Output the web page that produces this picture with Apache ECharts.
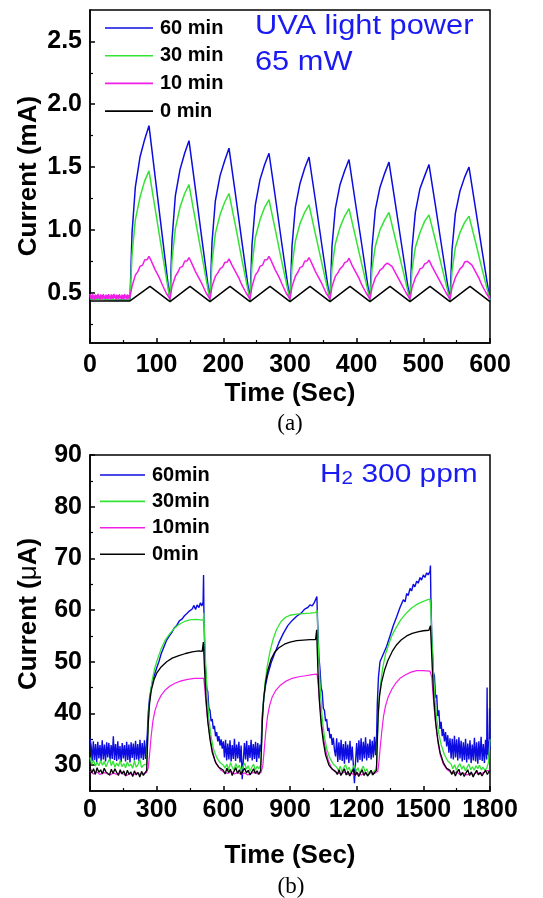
<!DOCTYPE html>
<html>
<head>
<meta charset="utf-8">
<script src="https://cdn.jsdelivr.net/npm/echarts@6/dist/echarts.min.js"></script>
<style>
html,body{margin:0;padding:0;background:#fff;}
#chart{width:543px;height:898px;}
</style>
</head>
<body>
<div id="chart"></div>
<script>
// ---------- Panel (a): UVA light power 65 mW ----------
const aNames = ['60 min', '30 min', '10 min', '0 min'];
const aYTicks = [0.5, 1.0, 1.5, 2.0, 2.5];
const aYMinor = [0.25, 0.75, 1.25, 1.75, 2.25];
const aXTicks = [0, 100, 200, 300, 400, 500, 600];

const a60 = [[0,0.45],[60,0.44],[63,0.97],[68,1.34],[75,1.58],[82,1.72],[88.5,1.83],[98,1.41],[108,0.97],
[120,0.44],[123,0.92],[128,1.27],[135,1.48],[142,1.61],[148.5,1.71],[158,1.33],[168,0.92],
[180,0.44],[183,0.90],[188,1.23],[195,1.43],[202,1.55],[208.5,1.65],[218,1.29],[228,0.90],
[240,0.44],[243,0.88],[248,1.20],[255,1.40],[262,1.52],[268.5,1.61],[278,1.26],[288,0.88],
[300,0.44],[303,0.87],[308,1.18],[315,1.37],[322,1.49],[328.5,1.58],[338,1.24],[348,0.87],
[360,0.44],[363,0.87],[368,1.17],[375,1.36],[382,1.47],[388.5,1.56],[398,1.22],[408,0.87],
[420,0.44],[423,0.86],[428,1.16],[435,1.34],[442,1.45],[448.5,1.54],[458,1.21],[468,0.86],
[480,0.44],[483,0.85],[488,1.14],[495,1.33],[502,1.43],[508.5,1.52],[518,1.20],[528,0.85],
[540,0.44],[543,0.84],[548,1.13],[555,1.31],[562,1.42],[568.5,1.50],[578,1.18],[588,0.84],[600,0.44]];

const a30 = [[0,0.45],[60,0.44],[63,0.80],[68,1.08],[75,1.26],[82,1.39],[88.5,1.47],[98,1.16],[108,0.83],
[120,0.44],[123,0.76],[128,1.01],[135,1.18],[142,1.29],[148.5,1.36],[158,1.08],[168,0.79],
[180,0.44],[183,0.74],[188,0.97],[195,1.12],[202,1.22],[208.5,1.29],[218,1.04],[228,0.76],
[240,0.44],[243,0.72],[248,0.94],[255,1.08],[262,1.18],[268.5,1.24],[278,1.00],[288,0.74],
[300,0.44],[303,0.71],[308,0.91],[315,1.05],[322,1.14],[328.5,1.20],[338,0.97],[348,0.73],
[360,0.44],[363,0.70],[368,0.89],[375,1.02],[382,1.11],[388.5,1.17],[398,0.95],[408,0.72],
[420,0.44],[423,0.69],[428,0.87],[435,1.00],[442,1.08],[448.5,1.14],[458,0.93],[468,0.71],
[480,0.44],[483,0.68],[488,0.86],[495,0.98],[502,1.07],[508.5,1.12],[518,0.92],[528,0.70],
[540,0.44],[543,0.67],[548,0.86],[555,0.98],[562,1.06],[568.5,1.11],[578,0.91],[588,0.69],[600,0.44]];

const a10 = [[0,0.49],[1,0.452],[2,0.483],[3,0.447],[4,0.488],[5,0.458],[6,0.479],[7,0.446],[8,0.486],[9,0.455],
[10,0.481],[11,0.449],[12,0.492],[13,0.46],[14,0.477],[15,0.445],[16,0.487],[17,0.453],[18,0.482],[19,0.448],
[20,0.49],[21,0.457],[22,0.478],[23,0.446],[24,0.485],[25,0.452],[26,0.48],[27,0.449],[28,0.489],[29,0.456],
[30,0.476],[31,0.447],[32,0.487],[33,0.454],[34,0.483],[35,0.45],[36,0.491],[37,0.458],[38,0.479],[39,0.445],
[40,0.486],[41,0.453],[42,0.481],[43,0.448],[44,0.488],[45,0.455],[46,0.477],[47,0.446],[48,0.485],[49,0.451],
[50,0.482],[51,0.449],[52,0.49],[53,0.457],[54,0.478],[55,0.447],[56,0.486],[57,0.454],[58,0.48],[59,0.45],[60,0.47],
[63,0.55],[68,0.64],[72,0.67],[75,0.71],[79,0.72],[82,0.76],[86,0.765],[88.5,0.79],[93,0.74],[98,0.68],[103,0.63],[108,0.57],[114,0.5],
[120,0.45],[123,0.55],[128,0.63],[132,0.665],[135,0.70],[139,0.71],[142,0.75],[146,0.755],[148.5,0.78],[153,0.73],[158,0.67],[163,0.62],[168,0.57],[174,0.5],
[180,0.45],[183,0.55],[188,0.63],[192,0.66],[195,0.69],[199,0.705],[202,0.74],[206,0.745],[208.5,0.77],[213,0.72],[218,0.67],[223,0.62],[228,0.56],[234,0.5],
[240,0.45],[243,0.55],[248,0.64],[252,0.67],[255,0.71],[259,0.72],[262,0.76],[266,0.765],[268.5,0.79],[273,0.74],[278,0.68],[283,0.63],[288,0.57],[294,0.5],
[300,0.45],[303,0.55],[308,0.63],[312,0.665],[315,0.70],[319,0.71],[322,0.75],[326,0.755],[328.5,0.78],[333,0.73],[338,0.67],[343,0.62],[348,0.57],[354,0.5],
[360,0.45],[363,0.55],[368,0.63],[372,0.66],[375,0.69],[379,0.71],[382,0.74],[386,0.75],[388.5,0.775],[393,0.72],[398,0.67],[403,0.62],[408,0.56],[414,0.5],
[420,0.45],[423,0.54],[428,0.62],[432,0.65],[435,0.68],[439,0.695],[442,0.72],[446,0.735],[448.5,0.75],[453,0.71],[458,0.66],[463,0.61],[468,0.56],[474,0.5],
[480,0.45],[483,0.54],[488,0.62],[492,0.655],[495,0.69],[499,0.70],[502,0.73],[506,0.74],[508.5,0.76],[513,0.71],[518,0.66],[523,0.61],[528,0.56],[534,0.5],
[540,0.45],[543,0.54],[548,0.62],[552,0.66],[555,0.69],[559,0.71],[562,0.745],[566,0.75],[568.5,0.76],[573,0.72],[578,0.67],[583,0.62],[588,0.56],[594,0.5],[600,0.45]];

const a0 = [[0,0.435],[60,0.435],[90,0.55],[120,0.43],[150,0.55],[180,0.43],[210,0.55],[240,0.43],[270,0.55],[300,0.43],
[330,0.55],[360,0.43],[390,0.55],[420,0.43],[450,0.55],[480,0.43],[510,0.55],[540,0.43],[570,0.55],[600,0.43]];

// ---------- Panel (b): H2 300 ppm ----------
const bNames = ['60min', '30min', '10min', '0min'];
const bYTicks = [30, 40, 50, 60, 70, 80, 90];
const bYMinor = [35, 45, 55, 65, 75, 85];
const bXTicks = [0, 300, 600, 900, 1200, 1500, 1800];

const b60 = [[0,35.2],[5,33.8],[10,30.8],[15,34.6],[20,31.0],[25,34.1],[30,30.6],[35,34.5],[40,31.3],[45,33.9],[50,30.8],[55,34.8],[60,31.1],[65,34.0],[70,30.7],[75,34.4],[80,31.5],[85,34.3],[90,30.9],[95,33.9],[100,31.2],[105,35.6],[110,31.0],[115,34.1],[120,30.8],[125,34.6],[130,31.1],[135,33.7],[140,30.6],[145,34.3],[150,31.3],[155,33.9],[160,30.7],[165,34.5],[170,31.0],[175,34.0],[180,30.5],[185,34.4],[190,31.4],[195,34.2],[200,30.9],[205,34.7],[210,31.1],[215,34.1],[220,30.8],[225,34.9],[230,31.3],[235,34.3],[240,31.0],[245,34.8],[250,31.2],[255,34.4],
[258,36],[262,40],[268,43],[278,45.5],[290,47.5],[300,48.8],[310,50.0],[320,51.5],[332,52.8],[345,54.2],[357,55.0],[370,55.8],[380,56.6],[390,57.0],[402,57.9],[415,58.3],[425,58.9],[435,59.3],[447,59.8],[460,60.2],[468,60.9],[475,60.1],[482,61.0],[490,60.5],[497,61.4],[503,60.8],[509,61.5],[511,66.8],[513,58],[518,50],[525,45],[530,44.2],[535,41],[540,40.6],[545,38.5],[550,38.9],[555,37],[560,37.6],[565,35.6],[570,36.4],[575,34.6],[580,35.6],[585,33.8],[590,35.0],[595,33.2],[600,34.6],
[605,31.5],[610,34.9],[615,30.9],[620,34.2],[625,31.1],[630,34.8],[635,30.7],[640,33.9],[645,31.2],[650,35.1],[655,30.8],[660,34.0],[665,31.3],[670,34.5],[675,30.5],[680,33.8],[685,27.3],[690,31.0],[695,34.3],[700,31.1],[705,34.7],[710,30.7],[715,33.9],[720,31.4],[725,34.9],[730,30.9],[735,34.1],[740,31.2],[745,34.5],[750,30.6],[755,34.3],[760,31.3],[765,34.0],[770,32.5],
[772,36],[776,40],[782,43],[790,45.5],[800,47.5],[815,49.8],[830,51.5],[850,53.7],[870,55.5],[890,57.0],[910,58.0],[930,58.8],[950,59.4],[960,59.9],[970,60.3],[980,60.5],[990,61.0],[1000,60.8],[1010,61.5],[1018,61.3],[1021,62.6],[1024,58],[1030,51],[1035,48.5],[1040,45],[1045,44.2],[1050,41],[1055,40.6],[1060,38.5],[1065,38.9],[1070,36.6],[1075,37.2],[1080,35.2],[1085,36.0],[1090,33.9],[1095,35.3],[1100,33.0],
[1105,31.7],[1110,35.2],[1115,30.6],[1120,34.4],[1125,31.0],[1130,34.9],[1135,30.8],[1140,34.1],[1145,30.3],[1150,34.6],[1155,31.1],[1160,34.0],[1165,30.4],[1170,34.7],[1175,30.9],[1180,33.6],[1185,30.1],[1190,26.5],[1195,30.7],[1200,34.3],[1205,30.5],[1210,34.8],[1215,31.0],[1220,35.2],[1225,30.7],[1230,34.5],[1235,31.3],[1240,35.4],[1245,30.9],[1250,34.2],[1255,31.4],[1260,35.0],[1265,31.1],[1270,34.7],[1275,31.5],[1280,35.5],[1285,31.9],
[1290,36],[1293,42],[1298,47],[1305,50],[1320,51.5],[1335,53],[1350,55],[1365,57],[1380,58.7],[1395,60.5],[1410,62],[1418,61.6],[1425,63.2],[1432,62.8],[1440,64.2],[1447,63.7],[1455,65],[1462,64.5],[1470,65.6],[1477,65.2],[1485,66.3],[1492,65.8],[1500,66.8],[1507,66.3],[1515,67.2],[1522,66.8],[1530,67.5],[1532,68.6],[1534,62],[1538,55],[1545,48],[1550,47.2],[1555,43],[1560,43.6],[1565,39.5],[1570,40.6],[1575,37],[1580,38.4],[1585,35.6],[1590,37.0],[1595,34.6],[1600,36.4],[1605,33.6],[1610,35.8],[1615,32.4],[1620,35.2],
[1625,31.3],[1630,35.1],[1635,31.1],[1640,35.7],[1645,31.5],[1650,35.0],[1655,30.9],[1660,35.4],[1665,31.3],[1670,34.7],[1675,30.7],[1680,34.4],[1685,31.0],[1690,35.1],[1695,30.5],[1700,34.2],[1705,31.1],[1710,34.8],[1715,30.4],[1720,34.0],[1725,30.9],[1730,35.3],[1735,30.7],[1740,34.4],[1745,30.3],[1750,34.6],[1755,31.0],[1760,35.5],[1765,30.8],[1770,34.1],[1775,30.4],[1780,34.9],[1785,31.1],[1787,45],[1789,32],[1792,34.6],[1795,31.5],[1798,41],[1800,33]];

const b30 = [[0,31.5],[8,30.2],[16,31.0],[24,29.8],[32,30.6],[40,29.9],[48,30.9],[56,30.0],[64,30.7],[72,29.7],[80,30.5],[88,31.2],[96,29.9],[104,30.8],[112,29.6],[120,30.4],[128,29.8],[136,30.9],[144,29.7],[152,30.3],[160,29.5],[168,30.6],[176,29.8],[184,30.2],[192,29.4],[200,30.8],[208,29.6],[216,30.1],[224,31.2],[232,29.5],[240,30.0],[248,29.7],[255,30.2],
[260,36],[265,40.5],[272,44],[280,46.5],[290,48.5],[300,50],[320,52.5],[340,54.3],[360,55.5],[380,56.5],[400,57.2],[425,57.8],[450,58.1],[475,58.2],[500,58.1],[510,58.0],[512,59.5],[515,56],[520,50],[527,44],[535,39],[545,35.5],[555,33.2],[570,31.5],[585,30.5],[600,30.0],
[608,29.4],[616,30.2],[624,29.1],[632,30.5],[640,29.6],[648,29.0],[656,30.3],[664,29.4],[672,30.0],[680,28.9],[688,29.7],[696,30.4],[704,29.2],[712,29.9],[720,28.8],[728,29.6],[736,30.2],[744,29.0],[752,29.8],[760,29.3],[768,30.0],
[770,31],[774,37],[780,42],[788,46],[797,49],[810,52],[825,54.5],[840,56.3],[860,57.8],[880,58.6],[900,59.0],[930,59.2],[960,59.3],[990,59.4],[1015,59.5],[1022,60.0],[1025,56],[1030,50],[1037,44],[1045,39],[1055,35.5],[1065,33.2],[1080,31.3],[1095,30.2],[1110,29.6],
[1118,29.0],[1126,29.8],[1134,28.7],[1142,29.5],[1150,30.1],[1158,29.0],[1166,29.6],[1174,28.6],[1182,29.4],[1190,30.0],[1198,28.9],[1206,29.5],[1214,28.4],[1222,29.2],[1230,29.8],[1238,28.7],[1246,29.3],[1254,28.2],[1262,28.9],[1270,28.1],[1278,28.8],[1286,29.2],
[1290,30],[1294,36],[1300,42],[1308,46],[1318,49],[1330,51.5],[1345,53.5],[1360,55.2],[1380,56.8],[1400,58.2],[1425,59.5],[1450,60.5],[1475,61.2],[1500,61.7],[1520,62.0],[1530,62.1],[1534,60],[1538,55],[1544,49],[1552,43],[1560,39],[1570,36],[1580,34],[1595,32],[1610,30.8],[1625,30.2],
[1633,29.3],[1641,30.1],[1649,29.0],[1657,29.8],[1665,30.3],[1673,29.2],[1681,29.9],[1689,28.9],[1697,29.6],[1705,30.2],[1713,29.1],[1721,29.7],[1729,29.0],[1737,29.9],[1745,29.3],[1753,30.0],[1761,29.1],[1769,29.6],[1777,29.0],[1785,29.4],[1793,30.5],[1797,33],[1800,35]];

const b10 = [[0,28.9],[15,28.3],[30,28.7],[45,28.2],[60,28.6],[75,28.4],[90,28.1],[105,28.5],[120,28.2],[135,28.6],[150,28.3],[165,28.0],[180,28.4],[195,28.1],[210,28.5],[225,28.2],[240,28.4],[255,28.6],
[262,29.5],[268,32],[275,35.5],[283,38.5],[292,40.5],[305,42.2],[320,43.5],[340,44.6],[360,45.3],[385,45.9],[410,46.3],[440,46.6],[470,46.8],[500,46.8],[512,46.8],[516,45],[522,42],[530,38.5],[540,35.5],[550,33],[562,31],[575,29.8],[590,29.0],[605,28.6],
[620,28.4],[635,28.8],[650,28.3],[665,28.6],[680,28.2],[695,28.5],[710,28.1],[725,28.4],[740,28.7],[755,28.3],[770,28.6],
[778,30],[784,33],[791,36.5],[799,39.5],[808,41.5],[820,43.2],[835,44.4],[855,45.4],[880,46.2],[910,46.8],[940,47.1],[970,47.3],[1000,47.5],[1022,47.6],[1026,46],[1032,43],[1040,39],[1050,35.5],[1060,33],[1072,31],[1085,29.6],[1100,28.8],[1115,28.5],
[1130,28.3],[1145,28.7],[1160,28.2],[1175,28.5],[1190,28.0],[1205,28.4],[1220,28.1],[1235,28.5],[1250,28.2],[1265,28.6],[1280,28.4],[1295,28.8],
[1300,30.5],[1306,33.5],[1313,36.5],[1321,39.5],[1330,41.5],[1342,43.2],[1357,44.6],[1375,45.8],[1395,46.8],[1420,47.5],[1445,48.0],[1470,48.3],[1500,48.3],[1530,48.2],[1538,47],[1543,44],[1550,40.5],[1558,37],[1567,34],[1577,31.8],[1590,30.2],[1605,29.2],[1620,28.7],
[1635,28.4],[1650,28.7],[1665,28.2],[1680,28.5],[1695,28.1],[1710,28.4],[1725,28.2],[1740,28.6],[1755,28.3],[1770,28.5],[1785,28.9],[1800,29.0]];

const b0 = [[0,29.6],[8,28.5],[16,29.3],[24,28.2],[32,29.5],[40,28.6],[48,29.1],[56,28.3],[64,29.4],[72,28.7],[80,29.0],[88,28.1],[96,29.2],[104,28.4],[112,29.3],[120,28.6],[128,28.0],[136,29.1],[144,28.3],[152,28.9],[160,27.9],[168,29.0],[176,28.2],[184,28.7],[192,27.8],[200,28.9],[208,28.1],[216,28.6],[224,27.7],[232,28.8],[240,28.0],[248,28.5],[255,29.0],
[258,33],[262,38],[268,42],[276,44.5],[288,46.5],[300,47.8],[320,49],[345,50],[370,50.7],[400,51.2],[430,51.6],[460,51.9],[490,52.1],[505,52.0],[509,52.0],[510,53.8],[512,52],[516,48],[522,43],[530,38.5],[540,35],[550,32.5],[565,30.5],[580,29.6],[600,29.0],
[608,28.3],[616,29.4],[624,28.6],[632,29.2],[640,28.0],[648,28.8],[656,29.5],[664,28.4],[672,29.1],[680,28.2],[688,28.9],[696,29.4],[704,28.5],[712,29.0],[720,28.1],[728,28.7],[736,29.3],[744,28.4],[752,28.9],[760,28.2],[768,29.0],
[772,34],[776,39],[782,43],[790,46],[800,48.3],[815,50.5],[830,51.8],[850,52.7],[875,53.4],[900,53.8],[930,54.1],[960,54.2],[990,54.3],[1015,54.3],[1020,56.2],[1022,53],[1026,48],[1032,42.5],[1040,38],[1050,34.5],[1060,32],[1075,30],[1090,29.2],[1105,28.8],
[1113,28.2],[1121,29.1],[1129,28.0],[1137,28.7],[1145,29.3],[1153,28.1],[1161,28.8],[1169,27.9],[1177,28.6],[1185,29.2],[1193,28.0],[1201,28.7],[1209,27.8],[1217,28.5],[1225,29.1],[1233,28.0],[1241,28.6],[1249,27.9],[1257,28.4],[1265,29.0],[1273,28.1],[1281,28.6],[1289,29.0],
[1293,35],[1297,40],[1303,43.5],[1312,46],[1325,48.3],[1340,50.2],[1360,52],[1380,53.3],[1400,54.2],[1425,55],[1450,55.5],[1475,55.8],[1500,56],[1525,56.1],[1530,56],[1532,57],[1535,54],[1540,49],[1547,43],[1555,38.5],[1565,35],[1575,32.5],[1590,30.5],[1605,29.4],[1620,29.0],
[1628,28.2],[1636,29.0],[1644,27.9],[1652,28.7],[1660,29.2],[1668,28.0],[1676,28.6],[1684,27.8],[1692,28.5],[1700,29.1],[1708,28.0],[1716,28.7],[1724,27.7],[1732,28.4],[1740,29.0],[1748,28.1],[1756,28.6],[1764,27.9],[1772,28.5],[1780,29.0],[1788,28.2],[1796,28.8],[1800,29.0]];

// ---------- styling ----------
const FONT = '"Liberation Sans", Arial, Helvetica, sans-serif';
const BLUE = '#0c0ce0', GREEN = '#34e334', MAGENTA = '#f01ee6', BLACK = '#000000';
const ANNO = '#1a1af2';

function xAxisCfg(grid, max, interval, labelSize, margin, nameGap) {
  return {
    gridIndex: grid, type: 'value', min: 0, max: max, interval: interval,
    axisLine: { show: true, onZero: false, lineStyle: { color: '#000', width: 1.5 } },
    axisTick: { show: true, inside: true, length: 5, lineStyle: { color: '#000', width: 1.5 } },
    minorTick: { show: true, splitNumber: 2, length: 3, lineStyle: { color: '#000', width: 1.2 } },
    splitLine: { show: false }, minorSplitLine: { show: false },
    axisLabel: { color: '#000', fontFamily: FONT, fontWeight: 'bold', fontSize: labelSize, margin: margin, formatter: v => String(v) },
    name: 'Time (Sec)', nameLocation: 'middle', nameGap: nameGap,
    nameTextStyle: { color: '#000', fontFamily: FONT, fontWeight: 'bold', fontSize: 26 }
  };
}
function yAxisCfg(grid, min, max, ticks, labelSize, fmt) {
  return {
    gridIndex: grid, type: 'value', min: min, max: max, position: 'left',
    axisLine: { show: true, onZero: false, lineStyle: { color: '#000', width: 1.5 } },
    axisTick: { show: true, inside: true, length: 5, customValues: ticks, lineStyle: { color: '#000', width: 1.5 } },
    splitLine: { show: false },
    axisLabel: { customValues: ticks, color: '#000', fontFamily: FONT, fontWeight: 'bold', fontSize: labelSize, margin: 8, formatter: fmt }
  };
}
function yMinorCfg(grid, min, max, ticks) {
  return {
    gridIndex: grid, type: 'value', min: min, max: max, position: 'left', offset: 0,
    axisLine: { show: false, onZero: false },
    axisTick: { show: true, inside: true, length: 3, customValues: ticks, lineStyle: { color: '#000', width: 1.2 } },
    axisLabel: { show: false }, splitLine: { show: false }
  };
}
function lineSeries(name, data, color, xi, yi, width, z) {
  return { name: name, type: 'line', data: data, xAxisIndex: xi, yAxisIndex: yi, symbol: 'none',
    showSymbol: false, lineStyle: { color: color, width: width }, itemStyle: { color: color }, z: z, silent: true };
}
function legendCfg(names, left, top, itemWidth, gap) {
  return {
    data: names, orient: 'vertical', left: left, top: top, padding: 0,
    icon: 'rect', itemWidth: itemWidth, itemHeight: 1.6, itemGap: gap, selectedMode: false,
    textStyle: { color: '#000', fontFamily: FONT, fontWeight: 'bold', fontSize: 20, lineHeight: 20, padding: [0, 0, 0, 2] }
  };
}

const chart = echarts.init(document.getElementById('chart'), null, { renderer: 'canvas' });
chart.setOption({
  animation: false,
  backgroundColor: '#ffffff',
  grid: [
    { left: 90, top: 10, width: 400, height: 333, show: true, borderColor: '#000', borderWidth: 1.5, backgroundColor: 'transparent' },
    { left: 90, top: 455, width: 400, height: 336, show: true, borderColor: '#000', borderWidth: 1.5, backgroundColor: 'transparent' }
  ],
  xAxis: [
    xAxisCfg(0, 600, 100, 25, 10, 38),
    xAxisCfg(1, 1800, 300, 25, 7, 52)
  ],
  yAxis: [
    yAxisCfg(0, 0.1, 2.75, aYTicks, 25, v => v.toFixed(1)),
    yMinorCfg(0, 0.1, 2.75, aYMinor),
    yAxisCfg(1, 25, 90, bYTicks, 25, v => String(v)),
    yMinorCfg(1, 25, 90, bYMinor)
  ],
  legend: [
    legendCfg(aNames, 105, 18, 48, 7.7),
    legendCfg(bNames, 100, 465, 45, 6.4)
  ],
  series: [
    lineSeries(aNames[0], a60, BLUE, 0, 0, 1.5, 2),
    lineSeries(aNames[1], a30, GREEN, 0, 0, 1.5, 3),
    lineSeries(aNames[3], a0, BLACK, 0, 0, 1.5, 4),
    lineSeries(aNames[2], a10, MAGENTA, 0, 0, 1.5, 5),
    lineSeries(bNames[0], b60, BLUE, 1, 2, 1.4, 2),
    lineSeries(bNames[2], b10, MAGENTA, 1, 2, 1.2, 3),
    lineSeries(bNames[1], b30, GREEN, 1, 2, 1.3, 4),
    lineSeries(bNames[3], b0, BLACK, 1, 2, 1.3, 5)
  ],
  graphic: [
    { type: 'text', x: 255, y: 27, scaleX: 1.14, silent: true,
      style: { text: 'UVA light power', fill: ANNO, fontFamily: FONT, fontSize: 27, verticalAlign: 'middle', align: 'left' } },
    { type: 'text', x: 255, y: 63, scaleX: 1.14, silent: true,
      style: { text: '65 mW', fill: ANNO, fontFamily: FONT, fontSize: 27, verticalAlign: 'middle', align: 'left' } },
    { type: 'text', x: 320, y: 475, scaleX: 1.15, silent: true,
      style: { text: '{m|H}{s|2}{m| 300 ppm}', fill: ANNO, verticalAlign: 'middle', align: 'left',
        rich: { m: { fontFamily: FONT, fontSize: 26, fill: ANNO, lineHeight: 26, verticalAlign: 'bottom' },
                s: { fontFamily: FONT, fontSize: 18, fill: ANNO, lineHeight: 20, verticalAlign: 'bottom' } } } },
    { type: 'text', x: 29, y: 176, rotation: Math.PI / 2, silent: true,
      style: { text: 'Current (mA)', fill: '#000', fontFamily: FONT, fontWeight: 'bold', fontSize: 26, align: 'center', verticalAlign: 'middle' } },
    { type: 'text', x: 29, y: 614, rotation: Math.PI / 2, silent: true,
      style: { text: 'Current ({u|μ}A)', fill: '#000', fontFamily: FONT, fontWeight: 'bold', fontSize: 26, align: 'center', verticalAlign: 'middle',
        rich: { u: { fontFamily: FONT, fontWeight: 'normal', fontSize: 26, fill: '#000' } } } },
    { type: 'text', x: 290, y: 424, silent: true,
      style: { text: '(a)', fill: '#000', fontFamily: '"Liberation Serif", "Times New Roman", serif', fontSize: 23, align: 'center', verticalAlign: 'middle' } },
    { type: 'text', x: 291, y: 887, silent: true,
      style: { text: '(b)', fill: '#000', fontFamily: '"Liberation Serif", "Times New Roman", serif', fontSize: 23, align: 'center', verticalAlign: 'middle' } }
  ]
});
</script>
</body>
</html>
